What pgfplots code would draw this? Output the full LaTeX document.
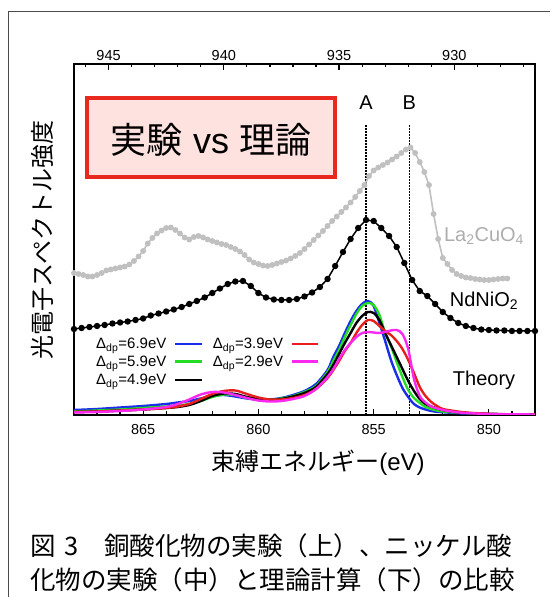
\documentclass[border=0pt]{standalone}
\usepackage{fontspec}
\setmainfont{Liberation Sans}
\newfontfamily\cjk{Noto Sans CJK JP}
\usepackage{pgfplots}
\pgfplotsset{compat=1.18}
\usepackage{pgfplotstable}

\definecolor{lgray}{RGB}{192,192,192}
\definecolor{tblue}{RGB}{25,45,235}
\definecolor{tgreen}{RGB}{35,220,35}
\definecolor{tred}{RGB}{232,30,30}
\definecolor{tmag}{RGB}{250,40,240}
\definecolor{boxred}{RGB}{232,42,30}
\definecolor{boxfill}{RGB}{253,226,224}

\pgfplotstableread{
E blue green black red mag
868 5 3.5 3 3 2.5
867 6 4.5 3.5 3.5 3
866 7.5 5.5 4.5 4.5 4
865 9 7 5.5 5.5 5.5
864 11 8.5 7 7 8
863.5 12.5 9.5 8 8.5 11
863 14 11 10 11 15.5
862.5 16.5 14 14 16 20.5
862 19 18 19 21 23
861.5 20 20.5 21.5 24 22.5
861 18.5 20 21 24.5 20
860.5 16.5 17 18 21 17
860 15.5 15.5 16 17.5 14.5
859.5 15.5 15 15 15.5 13.5
859 17 16.5 16 15.5 14
858.5 20 19 18.5 17 16
858 24 23 22 20 19
857.5 31 29 28 26 26
857 45 43 41 37 38
856.75 58 54 50 45 46
856.5 69 65 61 54 56
856.25 82 78 72 64 65
856 94 90 82 72 72
855.75 104 101 92 82 78
855.5 111 109 99 90 82
855.25 114 112 103 95 83
855 109 110 102 94 82.5
854.75 92 100 95 89 82
854.5 74 82 82 84 83
854.25 55 69 70 80 84.5
854 40 53 58 74 85
853.75 27 38 46 66 81
853.5 18 25 34 55 66
853.25 11 17 24 42 36
853 7.5 12 16 28 19
852.75 5.5 8 11 19 12.5
852.5 4 6 8.5 13 8.5
852.25 3.2 4.5 6.5 9 6.5
852 2.8 3.5 5 6 5
851.5 2 2.5 3 4 3
851 1.5 2 2 2.5 2
850 1 1 1 1.2 1
849 0.5 0.6 0.6 0.7 0.7
848 0.5 0.5 0.5 0.5 0.5
}\theory

\begin{document}
\begin{tikzpicture}[x=1pt,y=1pt]
\useasboundingbox (0,0) rectangle (550,597);
\draw[line width=1.2pt, black!70] (8.5,0) -- (8.5,585.5) -- (550,585.5);

% top axis
\begin{axis}[at={(74pt,182pt)}, anchor=south west, scale only axis,
  width=461pt, height=351pt,
  xmin=926.5, xmax=946.5, x dir=reverse, ymin=0, ymax=1,
  hide y axis, axis x line*=top,
  xtick={930,935,940,945}, minor xtick={927,...,946},
  tick align=inside, major tick length=6pt, minor tick length=3.5pt,
  axis line style={-, line width=1.6pt},
  every tick/.style={black, line width=1.2pt},
  /pgf/number format/assume math mode=true,
  /pgf/number format/1000 sep={},
  ticklabel style={font=\fontsize{14.5}{16}\selectfont},
]
\end{axis}

% main axis
\begin{axis}[at={(74pt,182pt)}, anchor=south west, scale only axis,
  width=461pt, height=351pt,
  xmin=848, xmax=868, x dir=reverse, ymin=0, ymax=351,
  ytick=\empty, xtick={850,855,860,865}, minor xtick={848,...,868},
  xtick pos=left,
  tick align=inside, major tick length=6pt, minor tick length=3.5pt,
  axis line style={line width=1.6pt},
  every tick/.style={black, line width=1.2pt},
  /pgf/number format/assume math mode=true,
  /pgf/number format/1000 sep={},
  ticklabel style={font=\fontsize{14.5}{16}\selectfont},
  xticklabel style={yshift=-6pt},
]
% dotted lines
\addplot[black, line width=1.7pt, dash pattern=on 1.5pt off 1.5pt] coordinates {(855.33,0) (855.33,290)};
\addplot[black, line width=1.7pt, dash pattern=on 1.5pt off 1.5pt] coordinates {(853.45,0) (853.45,290)};

% La2CuO4
\addplot[lgray, line width=1.6pt, mark=*, mark size=2.1pt, mark options={fill=lgray, draw=lgray}] coordinates {
(868.0,142) (867.8,141) (867.6,140) (867.4,138.5) (867.2,138.5) (867.0,140) (866.8,142) (866.6,144.5) (866.4,145.5) (866.2,146.5) (866.0,147.5) (865.8,148.5) (865.6,150.5) (865.4,154) (865.2,158.5) (865.0,164) (864.8,171.5) (864.6,177) (864.4,181.5) (864.2,184.5) (864.0,187) (863.8,187.5) (863.6,185) (863.4,181.5) (863.2,177.5) (863.0,175.5) (862.8,178) (862.6,179) (862.4,177.5) (862.2,175.5) (862.0,174) (861.8,172.5) (861.6,171) (861.4,170) (861.2,168) (861.0,166) (860.8,163.5) (860.6,160) (860.4,155.5) (860.2,152.5) (860.0,151) (859.8,149.5) (859.6,149) (859.4,150) (859.2,151.5) (859.0,153) (858.8,154.5) (858.6,156.5) (858.4,159) (858.2,162) (858.0,166) (857.8,170.5) (857.6,175) (857.4,179.5) (857.2,184) (857.0,189) (856.8,194) (856.6,198.5) (856.4,203) (856.2,207.5) (856.0,212.5) (855.8,218) (855.6,224) (855.4,230) (855.2,239) (855.0,244.5) (854.8,247.5) (854.6,250) (854.4,252.5) (854.2,255.5) (854.0,258.5) (853.8,262) (853.6,265.5) (853.4,267.5) (853.2,262) (853.0,253) (852.8,243) (852.6,230) (852.4,201) (852.2,176) (852.0,157) (851.8,151) (851.6,145) (851.4,141) (851.2,139) (851.0,137.5) (850.8,137) (850.6,136) (850.4,135.5) (850.2,135) (850.0,135) (849.8,135.5) (849.6,136) (849.4,136.5) (849.2,136.5)
};

% NdNiO2
\addplot[black, line width=1.5pt, mark=*, mark size=2.4pt] coordinates {
(868.00,86) (867.67,87) (867.33,88) (867.00,89) (866.67,90) (866.33,91.5) (866.00,92.5) (865.67,93.5) (865.33,95) (865.00,96.5) (864.67,99.5) (864.33,101.5) (864.00,103.5) (863.67,105.5) (863.33,108) (863.00,111) (862.67,114) (862.33,117.5) (862.00,122) (861.67,126.5) (861.33,131) (861.00,133.5) (860.67,134) (860.33,129) (860.00,122) (859.67,117.5) (859.33,115.5) (859.00,115) (858.67,115) (858.33,116) (858.00,118.5) (857.67,122.5) (857.33,128) (857.00,136) (856.67,149) (856.33,163) (856.00,176) (855.67,187) (855.33,195) (855.00,194) (854.67,187) (854.33,179) (854.00,168) (853.67,152) (853.33,135) (853.00,124) (852.67,119) (852.33,111) (852.00,103) (851.67,97) (851.33,92) (851.00,89) (850.67,87) (850.33,85.5) (850.00,85) (849.67,84.5) (849.33,84.5) (849.00,84) (848.67,84) (848.33,84) (848.00,84)
};

% theory
\addplot[tblue, line width=2.4pt, smooth] table[x=E, y=blue] {\theory};
\addplot[tgreen, line width=2.4pt, smooth] table[x=E, y=green] {\theory};
\addplot[black, line width=2.4pt, smooth] table[x=E, y=black] {\theory};
\addplot[tred, line width=2.4pt, smooth] table[x=E, y=red] {\theory};
\addplot[tmag, line width=2.4pt, smooth] table[x=E, y=mag] {\theory};

\node[font=\fontsize{20}{22}\selectfont] at (axis cs:855.33,312) {A};
\node[font=\fontsize{20}{22}\selectfont] at (axis cs:853.45,312) {B};
\node[font=\fontsize{20}{22}\selectfont, text=lgray!90!black] at (axis cs:850.21,179) {La\textsubscript{2}CuO\textsubscript{4}};
\node[font=\fontsize{20}{22}\selectfont] at (axis cs:850.21,114) {NdNiO\textsubscript{2}};
\node[font=\fontsize{20}{22}\selectfont] at (axis cs:850.21,35) {Theory};
\end{axis}

% legend
\begin{scope}[every node/.style={font=\fontsize{15}{17}\selectfont, inner sep=0pt}]
\node[anchor=base west] at (96,248) {Δ\textsubscript{dp}=6.9eV};
\node[anchor=base west] at (96,230.3) {Δ\textsubscript{dp}=5.9eV};
\node[anchor=base west] at (96,212) {Δ\textsubscript{dp}=4.9eV};
\node[anchor=base west] at (212.7,248) {Δ\textsubscript{dp}=3.9eV};
\node[anchor=base west] at (212.7,230.3) {Δ\textsubscript{dp}=2.9eV};
\draw[tblue, line width=2.4pt] (175,253) -- (202,253);
\draw[tgreen, line width=2.4pt] (175,235.3) -- (202,235.3);
\draw[black, line width=2.4pt] (175,217) -- (202,217);
\draw[tred, line width=2.4pt] (292,253) -- (318,253);
\draw[tmag, line width=2.4pt] (292,235.3) -- (318,235.3);
\end{scope}

% title box
\draw[boxred, line width=3.2pt, fill=boxfill] (87,420) rectangle (335,499);
\node[font=\fontsize{36}{40}\selectfont] at (211,457) {{\cjk 実験} vs {\cjk 理論}};

% axis labels
\node[rotate=90, font=\cjk\fontsize{24}{26}\selectfont] at (42,357) {光電子スペクトル強度};
\node[font=\fontsize{24}{26}\selectfont] at (318,134) {{\cjk 束縛エネルギー}(eV)};

% caption
\node[anchor=west, inner sep=0pt, font=\cjk\fontsize{25.5}{28}\selectfont] at (30,51) {図\hspace{0.35em}3\hspace{1em}銅酸化物の実験（上）、ニッケル酸};
\node[anchor=west, inner sep=0pt, font=\cjk\fontsize{25.5}{28}\selectfont] at (30,17) {化物の実験（中）と理論計算（下）の比較};
\end{tikzpicture}
\end{document}
